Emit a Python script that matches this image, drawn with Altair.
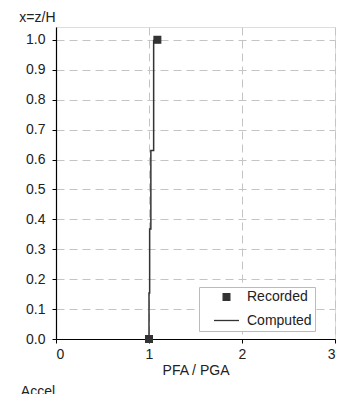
import altair as alt
import pandas as pd

# Computed profile (step line)
comp_x = [1.00, 1.00, 1.007, 1.007, 1.02, 1.02, 1.05, 1.05]
comp_y = [0.0, 0.154, 0.154, 0.368, 0.368, 0.63, 0.63, 1.0]
# Recorded values
rec_x = [1.0, 1.09]
rec_y = [0.0, 1.0]

y_ticks = [0.0, 0.1, 0.2, 0.3, 0.4, 0.5, 0.6, 0.7, 0.8, 0.9, 1.0]
x_ticks = [0, 1, 2, 3]
series_names = ["Recorded", "Computed"]

comp = pd.DataFrame({"x": comp_x, "y": comp_y, "order": list(range(len(comp_x))), "series": "Computed"})
rec = pd.DataFrame({"x": rec_x, "y": rec_y, "series": "Recorded"})

FONT = "Liberation Sans"
DARK = "#333333"
FS = 14

xscale = alt.Scale(domain=[0, 3], nice=False, zero=False)
yscale = alt.Scale(domain=[0, 1.043], nice=False, zero=False)

xaxis = alt.Axis(values=x_ticks, title="PFA / PGA", format="d", grid=True, labelOverlap=False,
                 gridDash=[8, 5], gridColor="#c4c4c4", domainColor="black",
                 tickColor="black", tickSize=4, labelPadding=4, titlePadding=2,
                 labelFont=FONT, titleFont=FONT, labelFontSize=FS, titleFontSize=FS,
                 titleFontWeight="normal", labelColor="#222", titleColor="#222",
                 domainWidth=1.2)
yaxis = alt.Axis(values=y_ticks, title="x=z/H", format=".1f", grid=True, labelOverlap=False,
                 gridDash=[8, 5], gridColor="#c4c4c4", domainColor="black",
                 tickColor="black", tickSize=4, labelPadding=7,
                 labelFont=FONT, titleFont=FONT, labelFontSize=FS, titleFontSize=FS,
                 titleFontWeight="normal", labelColor="#222", titleColor="#222",
                 titleAngle=0, titleAlign="right", titleBaseline="alphabetic",
                 titleX=-1, titleY=-6, domainWidth=1.2)

line = alt.Chart(comp).mark_line(color=DARK, strokeWidth=1.5).encode(
    x=alt.X("x:Q", scale=xscale, axis=xaxis),
    y=alt.Y("y:Q", scale=yscale, axis=yaxis),
    order="order:Q",
)

points = alt.Chart(rec).mark_point(filled=True, color=DARK, fill=DARK, stroke=DARK,
                                   strokeWidth=1.3, opacity=1).encode(
    x=alt.X("x:Q", scale=xscale, axis=xaxis),
    y=alt.Y("y:Q", scale=yscale, axis=yaxis),
    shape=alt.Shape("series:N",
                    scale=alt.Scale(domain=series_names, range=["square", "stroke"]),
                    legend=alt.Legend(title=None, orient="none", legendX=143, legendY=260,
                                      fillColor="white", strokeColor="#bbbbbb",
                                      padding=3, rowPadding=3, labelOffset=7, symbolOffset=11,
                                      labelFont=FONT, labelFontSize=FS, labelColor="#222",
                                      symbolFillColor=DARK, symbolStrokeColor=DARK,
                                      symbolStrokeWidth=1.3, symbolOpacity=1)),
    size=alt.Size("series:N",
                  scale=alt.Scale(domain=series_names, range=[45, 625]),
                  legend=alt.Legend(title=None, orient="none", legendX=143, legendY=260)),
)

chart = alt.layer(line, points).properties(
    width=279, height=312,
    autosize=alt.AutoSizeParams(type="none"),
    padding={"left": 48, "top": 19, "right": 15, "bottom": 60},
    title=alt.TitleParams("Accel", orient="bottom", anchor="start", dx=2, offset=8,
                          font=FONT, fontSize=FS, fontWeight="normal", color="#222"),
).configure_view(stroke="black", strokeWidth=1.2).configure(background="white")

chart.save("out.html", embed_options={"renderer": "svg", "actions": False})
